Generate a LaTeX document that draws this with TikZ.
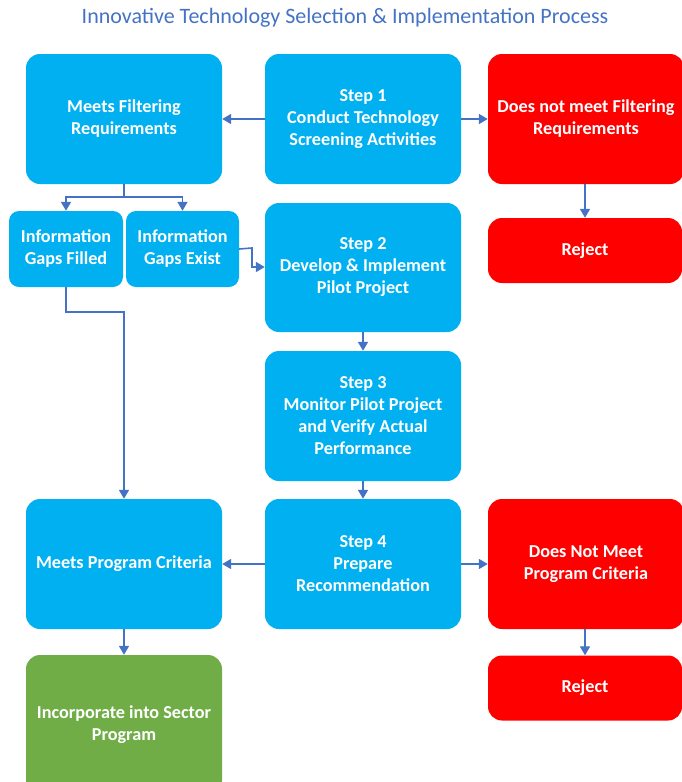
\documentclass[tikz,border=0pt]{standalone}
\usepackage{fontspec}
\setmainfont{Carlito}
\usetikzlibrary{arrows.meta}
\definecolor{bx}{HTML}{00B0F0}
\definecolor{rd}{HTML}{FF0000}
\definecolor{gn}{HTML}{70AD47}
\definecolor{ln}{HTML}{4472C4}
\begin{document}
\begin{tikzpicture}[x=1pt,y=-1pt,
  box/.style={rectangle, rounded corners=14pt, draw=none, fill=bx, text=white,
    font=\fontsize{18.2}{22}\selectfont\bfseries, align=center, inner sep=1pt},
  rbox/.style={box, fill=rd},
  gbox/.style={box, fill=gn},
  conn/.style={draw=ln, line width=1.6pt, -{Triangle[width=10pt,length=9pt]}},
  plain/.style={draw=ln, line width=1.6pt}]
\useasboundingbox (0,0) rectangle (681,782);
\node[font=\fontsize{22}{24}\selectfont, text=ln] (title) at (345,18) {Innovative Technology Selection \& Implementation Process};

\node[box, minimum width=196pt, minimum height=130pt] (mf) at (124,119) {Meets Filtering\\Requirements};
\node[box, minimum width=196pt, minimum height=130pt] (s1) at (363,119) {Step 1\\Conduct Technology\\Screening Activities};
\node[rbox, minimum width=196pt, minimum height=130pt] (dn) at (586,119) {Does not meet Filtering\\Requirements};

\node[box, rounded corners=10pt, minimum width=114pt, minimum height=76pt] (gf) at (66,249) {Information\\Gaps Filled};
\node[box, rounded corners=10pt, minimum width=113pt, minimum height=76pt] (ge) at (182.5,249) {Information\\Gaps Exist};
\node[box, minimum width=196pt, minimum height=129pt] (s2) at (363,267.5) {Step 2\\Develop \& Implement\\Pilot Project};
\node[rbox, minimum width=194pt, minimum height=65pt] (r1) at (585,250.5) {Reject};

\node[box, minimum width=196pt, minimum height=130pt] (s3) at (363,416) {Step 3\\Monitor Pilot Project\\and Verify Actual\\Performance};

\node[box, minimum width=196pt, minimum height=130pt] (mp) at (124,564) {Meets Program Criteria};
\node[box, minimum width=196pt, minimum height=130pt] (s4) at (363,564) {Step 4\\Prepare\\Recommendation};
\node[rbox, minimum width=196pt, minimum height=130pt] (dp) at (586,564) {Does Not Meet\\Program Criteria};

\node[gbox, minimum width=196pt, minimum height=140pt] (inc) at (124,725) {Incorporate into Sector\\Program};
\node[rbox, minimum width=194pt, minimum height=65pt] (r2) at (585,688) {Reject};

\draw[conn] (s1.west) -- (mf.east);
\draw[conn] (s1.east) -- (dn.east -| dn.west);
\draw[conn] (dn.south -| r1.north) -- (r1.north);

\coordinate (mfj) at (124,197);
\draw[plain] (mf.south) -- (mfj);
\draw[conn] (mfj) -| (gf.north);
\draw[conn] (mfj) -| (ge.north);

\coordinate (gej) at (252,248);
\draw[conn] (ge.east) -- (gej) |- (s2.west |- 0,267);

\coordinate (gfj) at (66,312);
\draw[conn] (gf.south) -- (gfj) -| (mp.north);

\draw[conn] (s2.south) -- (s3.north);
\draw[conn] (s3.south) -- (s4.north);
\draw[conn] (s4.west) -- (mp.east);
\draw[conn] (s4.east) -- (dp.west);
\draw[conn] (mp.south) -- (inc.north);
\draw[conn] (dp.south -| r2.north) -- (r2.north);
\end{tikzpicture}
\end{document}
